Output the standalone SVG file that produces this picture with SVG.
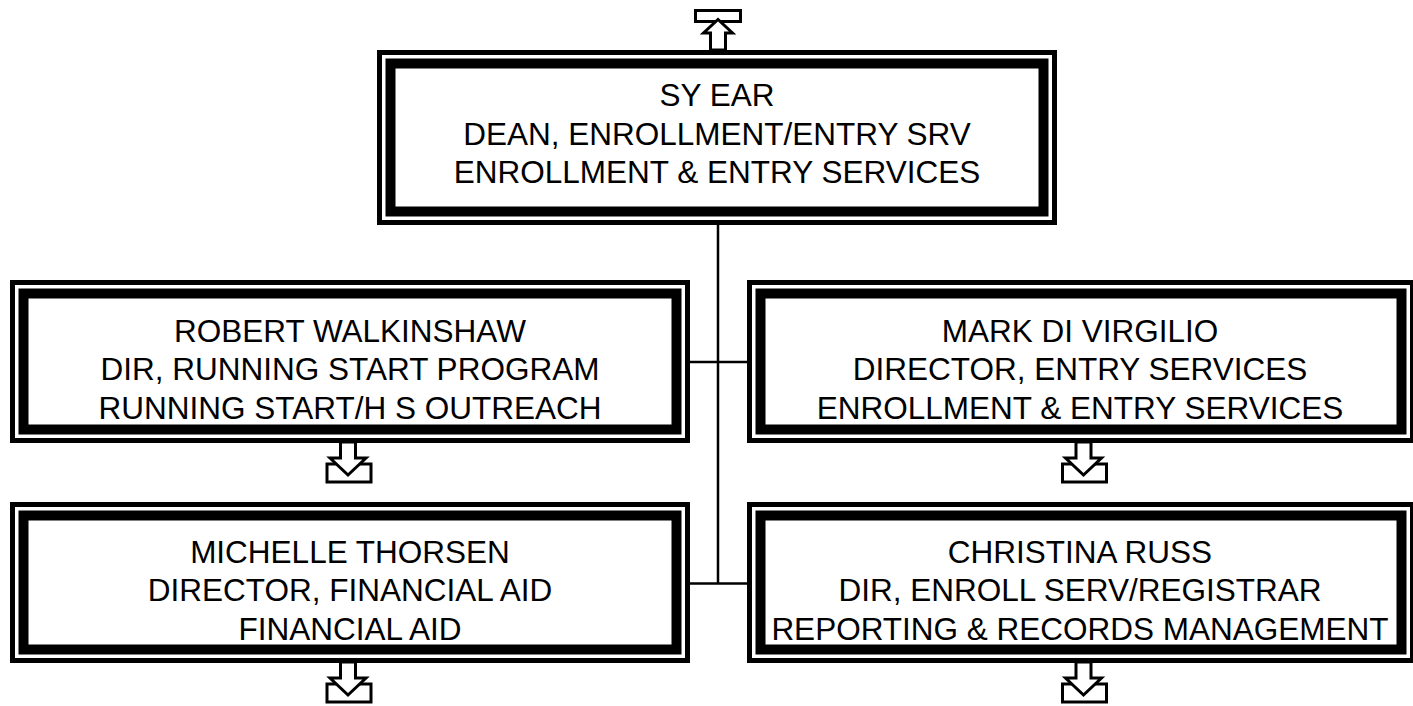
<svg xmlns="http://www.w3.org/2000/svg" xmlns:xlink="http://www.w3.org/1999/xlink" width="1413" height="706" viewBox="0 0 1413 706">
<style>
.outer{fill:#fff;stroke:#000;stroke-width:5}
.inner{fill:none;stroke:#000;stroke-width:10}
.conn{stroke:#000;stroke-width:2.5;fill:none}
.icon{fill:#fff;stroke:#000;stroke-width:3}
text{font-family:"Liberation Sans",Arial,sans-serif;font-size:31.5px;fill:#000;text-anchor:middle}
</style>
<defs>
<g id="down-icon">
<rect class="icon" x="-21" y="22" width="44" height="18"/>
<polygon class="icon" points="-7.5,0 -7.5,16 -18,16 0,33 18,16 7.5,16 7.5,0"/>
</g>
</defs>
<rect x="0" y="0" width="1413" height="706" fill="#fff"/>
<g id="connectors">
<line class="conn" x1="718" y1="225" x2="718" y2="583.5"/>
<line class="conn" x1="690" y1="362" x2="747" y2="362"/>
<line class="conn" x1="690" y1="583.5" x2="747" y2="583.5"/>
</g>
<g id="up-icon">
<rect class="icon" x="695.5" y="10.5" width="45" height="11"/>
<polygon class="icon" points="710.5,50 710.5,33 703.5,33 718,19.5 732.5,33 725.5,33 725.5,50"/>
</g>
<g id="node-sy-ear">
<rect class="outer" x="379.5" y="52.5" width="675" height="170"/>
<rect class="inner" x="390.5" y="63.5" width="653" height="148"/>
<text x="717" y="106">SY EAR</text>
<text x="717" y="144.5">DEAN, ENROLLMENT/ENTRY SRV</text>
<text x="717" y="183">ENROLLMENT &amp; ENTRY SERVICES</text>
</g>
<g id="node-walkinshaw">
<rect class="outer" x="12.5" y="282.5" width="675" height="158"/>
<rect class="inner" x="23.5" y="293.5" width="653" height="136"/>
<text x="350" y="341.5">ROBERT WALKINSHAW</text>
<text x="350" y="380">DIR, RUNNING START PROGRAM</text>
<text x="350" y="418.5">RUNNING START/H S OUTREACH</text>
<use xlink:href="#down-icon" transform="translate(348,442)"/>
</g>
<g id="node-divirgilio">
<rect class="outer" x="749.5" y="282.5" width="663" height="158"/>
<rect class="inner" x="760.5" y="293.5" width="641" height="136"/>
<text x="1080" y="341.5">MARK DI VIRGILIO</text>
<text x="1080" y="380">DIRECTOR, ENTRY SERVICES</text>
<text x="1080" y="418.5">ENROLLMENT &amp; ENTRY SERVICES</text>
<use xlink:href="#down-icon" transform="translate(1083.5,442)"/>
</g>
<g id="node-thorsen">
<rect class="outer" x="12.5" y="504.5" width="675" height="156"/>
<rect class="inner" x="23.5" y="515.5" width="653" height="134"/>
<text x="350" y="562.5">MICHELLE THORSEN</text>
<text x="350" y="601">DIRECTOR, FINANCIAL AID</text>
<text x="350" y="639.5">FINANCIAL AID</text>
<use xlink:href="#down-icon" transform="translate(348,662)"/>
</g>
<g id="node-russ">
<rect class="outer" x="749.5" y="504.5" width="663" height="156"/>
<rect class="inner" x="760.5" y="515.5" width="641" height="134"/>
<text x="1080" y="562.5">CHRISTINA RUSS</text>
<text x="1080" y="601">DIR, ENROLL SERV/REGISTRAR</text>
<text x="1080" y="639.5">REPORTING &amp; RECORDS MANAGEMENT</text>
<use xlink:href="#down-icon" transform="translate(1083.5,662)"/>
</g>
</svg>
